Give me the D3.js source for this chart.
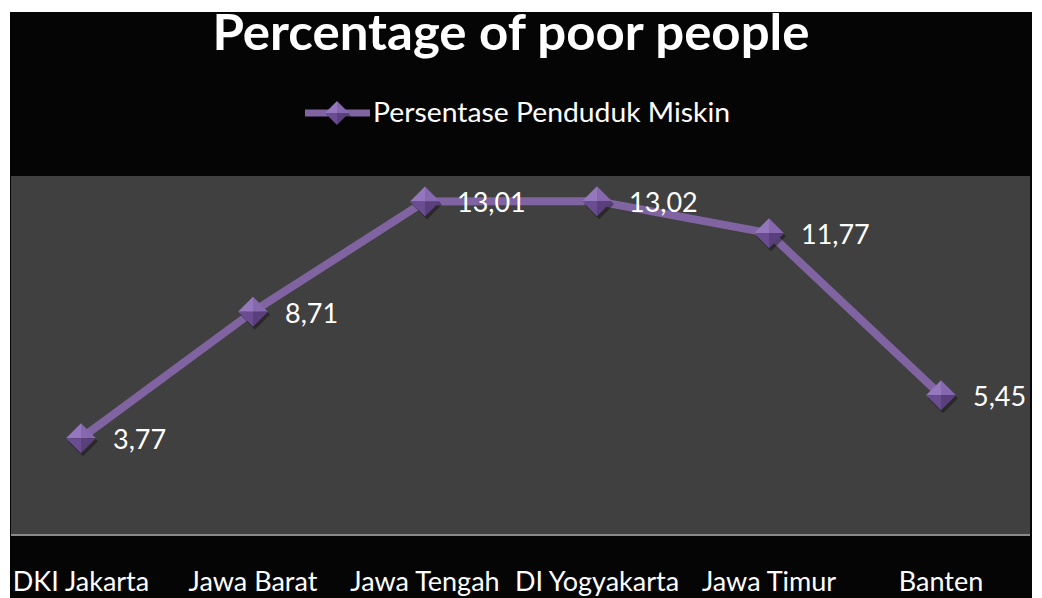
<!DOCTYPE html>
<html>
  <head>
    <title>Percentage of poor people</title>
    <script src="https://cdn.jsdelivr.net/npm/d3@7"></script>
    <style>
      body { margin: 0; background: #fff; }
      text { font-family: Lato, "Open Sans", sans-serif; fill: #fff; }
    </style>
  </head>
  <body>
    <svg width="1042" height="598"></svg>
    <script>
      // chart data
      var provinces = ["DKI Jakarta", "Jawa Barat", "Jawa Tengah", "DI Yogyakarta", "Jawa Timur", "Banten"];
      var poorPct = [3.77, 8.71, 13.01, 13.02, 11.77, 5.45];
      var valueLabels = ["3,77", "8,71", "13,01", "13,02", "11,77", "5,45"];
      var seriesName = "Persentase Penduduk Miskin";
      var title = "Percentage of poor people";

      var purple = "#8064a2";

      var svg = d3.select("svg");

      // black chart area with white page margin
      svg.append("rect")
        .attr("x", 10).attr("y", 12)
        .attr("width", 1022).attr("height", 586)
        .attr("fill", "#050505");

      // plot area
      var plot = { left: 11, right: 1030, top: 176, bottom: 535 };
      svg.append("rect")
        .attr("x", plot.left).attr("y", plot.top)
        .attr("width", plot.right - plot.left).attr("height", plot.bottom - plot.top)
        .attr("fill", "#404040");

      // scales
      var x = d3.scaleBand()
        .domain(provinces)
        .range([-5, 1027]);

      var y = d3.scaleLinear()
        .domain([0, 14])
        .range([plot.bottom, plot.top]);

      // bottom axis line + category labels
      var xAxis = svg.append("g")
        .attr("transform", "translate(0," + plot.bottom + ")")
        .call(d3.axisBottom(x).tickSize(0));
      xAxis.select(".domain").remove();
      svg.append("line")
        .attr("x1", plot.left).attr("x2", plot.right)
        .attr("y1", plot.bottom).attr("y2", plot.bottom)
        .attr("stroke", "#8a8a8a").attr("stroke-width", 2);
      xAxis.selectAll("text")
        .attr("y", 56)
        .attr("dy", 0)
        .attr("font-size", 27)
        .attr("font-family", "Lato, sans-serif")
        .attr("fill", "#fff");

      // title
      svg.append("text")
        .attr("x", 511).attr("y", 50)
        .attr("text-anchor", "middle")
        .attr("font-size", 50)
        .attr("font-weight", "bold")
        .attr("textLength", 597)
        .attr("lengthAdjust", "spacingAndGlyphs")
        .text(title);

      var cx = function (i) { return x(provinces[i]) + x.bandwidth() / 2; };

      // diamond marker with bevel facets
      function diamond(g, px, py, r) {
        var shade = ["#9577bd", "#8568ad", "#6a4c90", "#5a3f7d"];
        var pts = [[px, py - r], [px + r, py], [px, py + r], [px - r, py]];
        g.append("path")
          .attr("d", "M" + (px + 2) + "," + (py - r + 3) + "L" + (px + r + 2) + "," + (py + 3) +
                "L" + (px + 2) + "," + (py + r + 3) + "L" + (px - r + 2) + "," + (py + 3) + "Z")
          .attr("fill", "rgba(0,0,0,0.35)");
        var order = [[3, 0], [0, 1], [1, 2], [2, 3]];
        var fills = [shade[0], shade[1], shade[3], shade[2]];
        order.forEach(function (o, k) {
          g.append("path")
            .attr("d", "M" + px + "," + py + "L" + pts[o[0]].join(",") + "L" + pts[o[1]].join(",") + "Z")
            .attr("fill", fills[k]);
        });
      }

      // legend
      var lg = svg.append("g");
      lg.append("line")
        .attr("x1", 305).attr("x2", 370)
        .attr("y1", 113).attr("y2", 113)
        .attr("stroke", purple).attr("stroke-width", 7);
      diamond(lg, 337, 113, 12);
      lg.append("text")
        .attr("x", 373).attr("y", 122)
        .attr("font-size", 26)
        .attr("textLength", 357)
        .attr("lengthAdjust", "spacingAndGlyphs")
        .text(seriesName);

      // line
      var line = d3.line()
        .x(function (d, i) { return cx(i); })
        .y(function (d) { return y(d); });

      svg.append("path")
        .datum(poorPct)
        .attr("d", line)
        .attr("fill", "none")
        .attr("stroke", purple)
        .attr("stroke-width", 8)
        .attr("stroke-linejoin", "round");

      // markers
      var mg = svg.append("g");
      poorPct.forEach(function (v, i) {
        diamond(mg, cx(i), y(v), 15);
      });

      // data labels
      svg.selectAll(".val")
        .data(poorPct)
        .enter().append("text")
        .attr("class", "val")
        .attr("x", function (d, i) { return cx(i) + 32; })
        .attr("y", function (d) { return y(d) + 11; })
        .attr("font-size", 27)
        .text(function (d, i) { return valueLabels[i]; });
    </script>
  </body>
</html>
